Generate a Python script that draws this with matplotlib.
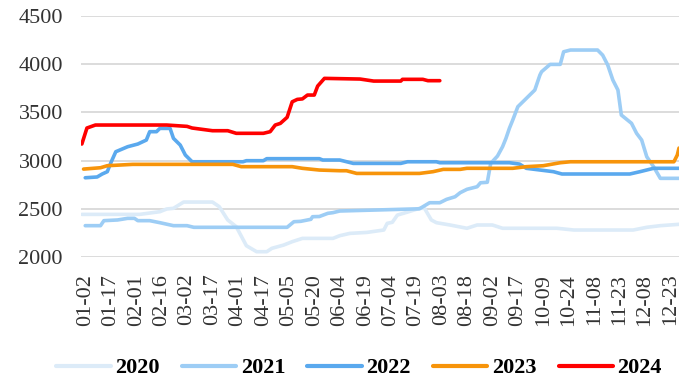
import matplotlib
matplotlib.use("Agg")
import matplotlib.pyplot as plt
import numpy as np

# day labels shown on the category axis
date_labels = ['01-02', '01-17', '02-01', '02-16', '03-02', '03-17', '04-01', '04-17',
               '05-05', '05-20', '06-04', '06-19', '07-04', '07-19', '08-03', '08-18',
               '09-02', '09-17', '10-09', '10-24', '11-08', '11-23', '12-08', '12-23']

# price series per year: (day index, price) at the turning points
day_2020 = [0, 34, 46, 50, 54, 60, 77, 81, 86, 91, 97, 103, 109, 112, 119, 124, 130, 148,
            152, 158, 168, 178, 180, 183, 186, 192, 199, 202, 206, 209, 217, 227, 233, 242,
            248, 280, 290, 325, 333, 341, 352]
price_2020 = [2442, 2442, 2470, 2498, 2505, 2570, 2570, 2522, 2384, 2315, 2117, 2055, 2055,
              2090, 2124, 2159, 2193, 2193, 2221, 2245, 2255, 2280, 2349, 2360, 2435, 2466,
              2505, 2505, 2384, 2356, 2332, 2298, 2332, 2332, 2298, 2298, 2280, 2280, 2308,
              2325, 2339]

day_2021 = [2, 11, 13, 21, 27, 31, 33, 40, 46, 54, 62, 66, 121, 125, 129, 135, 136, 140,
            145, 148, 152, 199, 205, 211, 215, 220, 223, 227, 233, 235, 239, 241, 245, 248,
            250, 252, 254, 257, 261, 264, 267, 270, 271, 276, 282, 284, 288, 304, 307, 310,
            313, 316, 318, 324, 327, 330, 333, 337, 341, 352]
price_2021 = [2325, 2325, 2377, 2384, 2401, 2401, 2377, 2377, 2356, 2325, 2325, 2308, 2308,
              2366, 2370, 2391, 2418, 2420, 2453, 2460, 2477, 2500, 2563, 2563, 2598, 2625,
              2667, 2702, 2729, 2770, 2775, 2971, 3047, 3144, 3231, 3334, 3421, 3559, 3628,
              3680, 3732, 3887, 3922, 3998, 3998, 4129, 4147, 4147, 4094, 3991, 3836, 3732,
              3473, 3387, 3283, 3213, 3040, 2937, 2816, 2816]

day_2022 = [2, 9, 12, 15, 17, 20, 27, 33, 38, 40, 44, 46, 52, 54, 58, 61, 65, 95, 97, 107,
            109, 140, 142, 152, 160, 188, 192, 209, 211, 252, 258, 262, 278, 283, 323, 329,
            337, 352]
price_2022 = [2822, 2830, 2861, 2885, 2974, 3092, 3144, 3172, 3213, 3300, 3300, 3334, 3334,
              3231, 3161, 3058, 2988, 2988, 2999, 2999, 3020, 3020, 3006, 3006, 2971, 2971,
              2988, 2988, 2978, 2978, 2964, 2920, 2885, 2861, 2861, 2885, 2920, 2920]

day_2023 = [1, 11, 15, 30, 89, 94, 124, 130, 140, 152, 156, 162, 199, 207, 213, 223, 227,
            254, 262, 272, 282, 288, 349, 351, 352]
price_2023 = [2912, 2926, 2947, 2961, 2961, 2937, 2937, 2920, 2902, 2895, 2895, 2867, 2867,
              2885, 2909, 2909, 2920, 2920, 2937, 2947, 2978, 2988, 2988, 3058, 3130]

day_2024 = [0, 3, 8, 50, 62, 65, 71, 77, 86, 91, 107, 111, 114, 117, 121, 124, 127, 130,
            133, 137, 139, 143, 152, 164, 172, 188, 189, 201, 204, 211]
price_2024 = [3172, 3338, 3369, 3369, 3355, 3338, 3324, 3310, 3310, 3283, 3283, 3300, 3369,
              3386, 3449, 3610, 3635, 3640, 3680, 3680, 3773, 3853, 3850, 3846, 3825, 3825,
              3843, 3843, 3829, 3829]

years = ['2020', '2021', '2022', '2023', '2024']
colors = ['#dcebf8', '#9dcdf5', '#5aa9ee', '#f7940a', '#ff0000']
series = [(day_2020, price_2020), (day_2021, price_2021), (day_2022, price_2022),
          (day_2023, price_2023), (day_2024, price_2024)]

fig = plt.figure(figsize=(6.79, 3.81), dpi=100)
ax = fig.add_axes([81 / 679, 1 - 257 / 381, 598 / 679, 241 / 381])

for (days, prices), year, color in zip(series, years, colors):
    ax.plot(days, prices, color=color, linewidth=2.6, label=year,
            solid_capstyle='round', solid_joinstyle='round')

ax.set_xlim(-0.5, 352)
ax.set_ylim(2000, 4500)
ax.set_yticks(np.arange(2000, 4501, 500))
ax.set_xticks(2 + 15 * np.arange(len(date_labels)))
ax.set_xticklabels(date_labels, rotation=90)

for lbl in ax.get_xticklabels() + ax.get_yticklabels():
    lbl.set_fontfamily('Liberation Serif')
    lbl.set_fontsize(16)
    lbl.set_color('#333333')

ax.tick_params(axis='both', length=0)
ax.tick_params(axis='y', pad=13)
ax.tick_params(axis='x', pad=12)
ax.grid(axis='y', color='#d9d9d9', linewidth=1.3)
ax.set_axisbelow(True)
for side in ax.spines.values():
    side.set_visible(False)

fig.legend(loc='center', bbox_to_anchor=(359 / 679, 1 - 368 / 381), ncol=5,
           frameon=False, handlelength=2.45, handletextpad=0.2, columnspacing=1.0,
           prop={'family': 'Liberation Serif', 'weight': 'bold', 'size': 16})
for line in fig.legends[0].get_lines():
    line.set_linewidth(3)

fig.savefig('out.png', dpi=100)
